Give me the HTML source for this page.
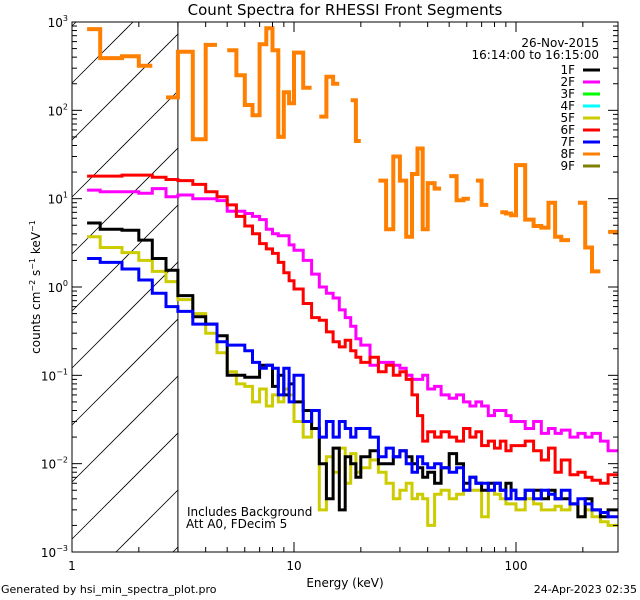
<!DOCTYPE html>
<html><head><meta charset="utf-8"><style>
html,body{margin:0;padding:0;background:#fff;width:640px;height:600px;overflow:hidden;}
svg{display:block;font-family:"DejaVu Sans","Liberation Sans",sans-serif;}
</style></head><body>
<svg id="chart" width="640" height="600" viewBox="0 0 640 600" xmlns="http://www.w3.org/2000/svg">
<rect width="640" height="600" fill="#fff"/>
<text x="345" y="15" font-size="15" text-anchor="middle">Count Spectra for RHESSI Front Segments</text>
<g id="hatch"></g>
<g id="series"></g>
<g id="axes"></g>
<text transform="translate(40,287) rotate(-90)" font-size="12" text-anchor="middle">counts cm<tspan font-size="8" dy="-5">−2</tspan><tspan dy="5"> s</tspan><tspan font-size="8" dy="-5">−1</tspan><tspan dy="5"> keV</tspan><tspan font-size="8" dy="-5">−1</tspan></text>
<text x="345" y="587" font-size="12" text-anchor="middle">Energy (keV)</text>
<text x="599" y="47" font-size="12" text-anchor="end">26-Nov-2015</text>
<text x="599" y="59" font-size="12" text-anchor="end">16:14:00 to 16:15:00</text>
<g id="legend"></g>
<text x="187" y="516" font-size="12">Includes Background</text>
<text x="186" y="528" font-size="12">Att A0, FDecim 5</text>
<text x="1" y="593" font-size="11">Generated by hsi_min_spectra_plot.pro</text>
<text x="637" y="593" font-size="11" text-anchor="end">24-Apr-2023 02:35</text>
</svg>
<script>
const edges=[1.17,1.34,1.68,2.0,2.3,2.65,3,3.5,4,4.5,5,5.5,6,6.5,7,7.5,8,8.5,9,9.5,10,11,12,13,14,15,16,17,18,19,20,22,24,26,28,30,32,34,36,38,40,43,46,50,54,58,62,66,70,75,80,85,90,95,100,110,120,130,140,150,160,175,190,205,220,240,260,288];
const seriesNames=["1F","2F","3F","4F","5F","6F","7F","8F","9F"];
const seriesColors=["#000000","#ff00ff","#00ff00","#00ffff","#cccc00","#ff0000","#0000ff","#ff8000","#808000"];
const s1F=[5.3,4.5,4.4,3.4,2.1,1.55,0.8,0.46,0.38,0.28,0.1,0.1,0.095,0.095,0.13,0.13,0.075,0.1,0.06,0.08,0.05,0.04,0.025,0.01,0.004,0.015,0.003,0.012,0.01,0.007,0.012,0.014,0.01,0.01,0.012,0.014,0.012,0.01,0.009,0.007,0.008,0.006,0.009,0.013,0.01,0.006,0.007,0.006,0.005,0.006,0.006,0.005,0.006,0.005,0.004,0.005,0.005,0.004,0.005,0.004,0.004,0.0035,0.0025,0.004,0.003,0.0025,0.003];
const s2F=[12.5,12,12,11.5,13,10.5,11,10,10,9.5,7.2,7.2,6.8,6.3,5.8,4.5,4,3.8,3.8,3.0,2.6,2.0,1.4,1.0,0.85,0.75,0.55,0.45,0.36,0.26,0.22,0.13,0.14,0.14,0.13,0.12,0.1,0.09,0.09,0.1,0.07,0.075,0.06,0.055,0.06,0.05,0.045,0.05,0.045,0.035,0.04,0.04,0.035,0.03,0.03,0.025,0.03,0.022,0.025,0.022,0.024,0.02,0.022,0.02,0.022,0.018,0.014];
const s5F=[3.7,2.8,2.45,2.0,1.5,1.15,0.72,0.5,0.3,0.18,0.11,0.08,0.075,0.05,0.07,0.045,0.06,0.05,0.07,0.06,0.03,0.02,0.025,0.003,0.012,0.008,0.015,0.006,0.013,0.008,0.009,0.011,0.008,0.006,0.004,0.005,0.006,0.004,0.0045,0.004,0.002,0.0045,0.005,0.004,0.0045,0.005,0.005,0.005,0.0025,0.005,0.0045,0.004,0.0035,0.0035,0.003,0.004,0.0035,0.003,0.003,0.0033,0.003,0.0035,0.0025,0.003,0.0025,0.0022,0.002];
const s6F=[18,18,18.5,18.5,17.5,16.5,16,14.5,12,10.5,8.5,6.3,4.9,4,3.1,2.7,2.4,1.9,1.45,1.18,0.95,0.65,0.45,0.42,0.31,0.24,0.21,0.25,0.19,0.16,0.14,0.16,0.11,0.13,0.1,0.11,0.09,0.06,0.035,0.018,0.023,0.02,0.023,0.02,0.018,0.025,0.02,0.023,0.016,0.018,0.015,0.018,0.014,0.016,0.016,0.018,0.014,0.011,0.015,0.008,0.011,0.0075,0.008,0.007,0.0065,0.006,0.0075];
const s7F=[2.1,1.9,1.6,1.2,0.85,0.6,0.53,0.38,0.38,0.24,0.22,0.22,0.19,0.14,0.12,0.13,0.12,0.06,0.12,0.05,0.1,0.03,0.04,0.02,0.03,0.02,0.03,0.025,0.02,0.025,0.025,0.02,0.012,0.015,0.012,0.014,0.01,0.008,0.012,0.01,0.009,0.01,0.009,0.008,0.009,0.005,0.007,0.006,0.006,0.005,0.006,0.005,0.004,0.005,0.004,0.005,0.004,0.005,0.0045,0.004,0.005,0.0035,0.004,0.0035,0.003,0.0028,0.0025];
const s8F=[830,390,410,320,null,140,460,47,550,null,480,250,115,88,560,850,480,50,160,120,450,180,null,85,240,200,null,null,130,45,null,null,16,4.5,30,16,3.7,19,37,4.5,15,13,null,18,9.6,10,null,16,8.5,null,null,7,6.8,6.5,24,5.8,4.9,4.7,9,3.7,3.4,null,9,2.8,1.5,null,4.2];
const seriesValues=[s1F,s2F,null,null,s5F,s6F,s7F,s8F,null];
const xTickMajor=[1,10,100];
const xTickLabels=["1","10","100"];
const yTickExp=[-3,-2,-1,0,1,2,3];

const NS="http://www.w3.org/2000/svg";
const L=72,R=618,T=22,B=552;
const xMin=1,xMax=288,yMinE=-3,yMaxE=3;
function xs(e){return L+(Math.log10(e)-Math.log10(xMin))/(Math.log10(xMax)-Math.log10(xMin))*(R-L);}
function ys(v){return B-(Math.log10(v)-yMinE)/(yMaxE-yMinE)*(B-T);}
function mk(tag,attrs,parent){const el=document.createElementNS(NS,tag);for(const k in attrs)el.setAttribute(k,attrs[k]);parent.appendChild(el);return el;}

const hatch=document.getElementById('hatch');
const X3=xs(3);
for(let k=-12;k<12;k++){
  const y0=83+57*k; // line: y = y0 - (x - L)
  let xa=Math.max(L, L+(y0-B)), xb=Math.min(X3, L+(y0-T));
  if(xb<=xa)continue;
  const ln=mk('line',{x1:xa,y1:y0-(xa-L),x2:xb,y2:y0-(xb-L),stroke:'#000','stroke-width':0.8},hatch);
  
  
}
const vl=mk('line',{x1:X3,y1:T,x2:X3,y2:B,stroke:'#000','stroke-width':1},hatch);



const sg=document.getElementById('series');
const scp=mk('clipPath',{id:'pc'},sg);mk('rect',{x:L,y:T,width:R-L,height:B-T},scp);
const drawOrder=[7,1,5,4,0,6];
drawOrder.forEach(si=>{
  const vals=seriesValues[si];if(!vals)return;
  let d='',open=false;
  for(let i=0;i<vals.length;i++){
    const v=vals[i];
    if(v===null||v<=0){open=false;continue;}
    const x0=xs(edges[i]),x1=xs(edges[i+1]),y=ys(v);
    if(!open){d+='M'+x0.toFixed(1)+','+y.toFixed(1);open=true;}else{d+='V'+y.toFixed(1);}
    d+='H'+x1.toFixed(1);
  }
  const p=mk('path',{d:d,fill:'none',stroke:seriesColors[si],'stroke-width':si===7?4:3,'clip-path':'url(#pc)'},sg);
  
  
});

const ax=document.getElementById('axes');
const frame=mk('rect',{x:L,y:T,width:R-L,height:B-T,fill:'none',stroke:'#000','stroke-width':1},ax);


for(let dec=0;dec<3;dec++){for(let m=1;m<10;m++){const e=m*Math.pow(10,dec);if(e>xMax)break;const x=xs(e);const len=m===1?10:5;
  const t1=mk('line',{x1:x,y1:B,x2:x,y2:B-len,stroke:'#000'},ax);
  
  
  const t2=mk('line',{x1:x,y1:T,x2:x,y2:T+len,stroke:'#000'},ax);
  
  }}
xTickMajor.forEach((e,i)=>{const t=mk('text',{x:xs(e),y:B+18,'font-size':12,'text-anchor':'middle'},ax);t.textContent=xTickLabels[i];
  
  });
yTickExp.forEach(ex=>{
  for(let m=1;m<10;m++){if(ex===3&&m>1)break;const v=m*Math.pow(10,ex);const y=ys(v);const len=m===1?10:5;
    const t1=mk('line',{x1:L,y1:y,x2:L+len,y2:y,stroke:'#000'},ax);
    
    
    const t2=mk('line',{x1:R,y1:y,x2:R-len,y2:y,stroke:'#000'},ax);
    
    }
  const t=mk('text',{x:L-4,y:ys(Math.pow(10,ex))+5,'font-size':12,'text-anchor':'end'},ax);
  
  
  const a=mk('tspan',{},t);a.textContent='10';
  const b=mk('tspan',{'font-size':8,dy:-6},t);b.textContent=String(ex).replace('-','−');
});

const lg=document.getElementById('legend');
seriesNames.forEach((n,i)=>{const y=70+12*i;
  const t=mk('text',{x:575,y:y+4,'font-size':12,'text-anchor':'end'},lg);t.textContent=n;
  
  
  const l=mk('line',{x1:583,y1:y,x2:600,y2:y,stroke:seriesColors[i],'stroke-width':3},lg);
  
  });
</script>
</body></html>
